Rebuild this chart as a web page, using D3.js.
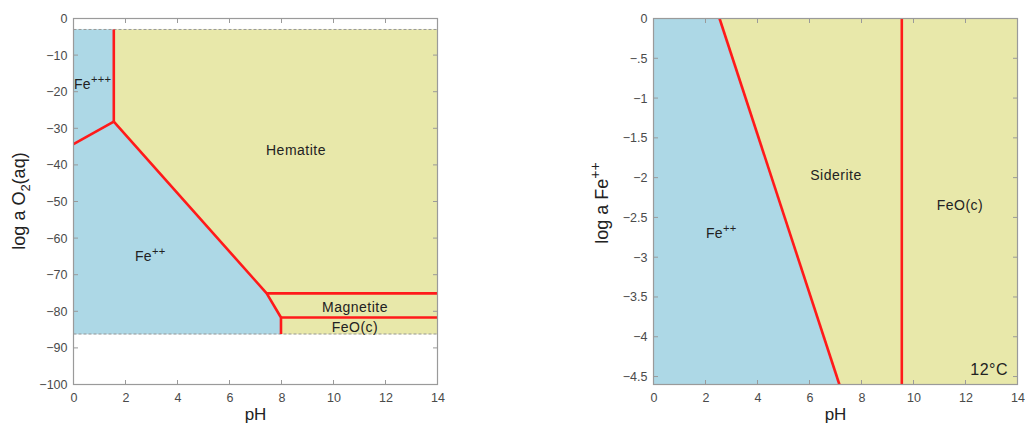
<!DOCTYPE html>
<html><head><meta charset="utf-8">
<script src="https://cdn.jsdelivr.net/npm/d3@7"></script>
<style>
body{margin:0;background:#fff;}
text{font-family:"Liberation Sans",Arial,sans-serif;}
</style></head>
<body><svg id="c" width="1025" height="423"></svg>
<script>
// ---------- data ----------
const xTicks = [0,2,4,6,8,10,12,14];
const leftYTicks = [0,-10,-20,-30,-40,-50,-60,-70,-80,-90,-100];
const rightYTicks = [0,-0.5,-1,-1.5,-2,-2.5,-3,-3.5,-4,-4.5];
const rightYTickLabels = ["0","\u2212.5","\u22121","\u22121.5","\u22122","\u22122.5","\u22123","\u22123.5","\u22124","\u22124.5"];

// left diagram (pH, log a O2)
const leftLimits = [-3, -86.2];
const feIIIRegion = [[0,-3],[1.55,-3],[1.55,-28.2],[0,-34.3]];
const hematiteRegion = [[1.55,-3],[14,-3],[14,-75.1],[7.43,-75.1],[1.55,-28.2]];
const feIIRegionL = [[0,-34.3],[1.55,-28.2],[7.43,-75.1],[7.98,-81.7],[7.98,-86.2],[0,-86.2]];
const magnetiteRegion = [[7.43,-75.1],[14,-75.1],[14,-81.7],[7.98,-81.7]];
const feoRegionL = [[7.98,-81.7],[14,-81.7],[14,-86.2],[7.98,-86.2]];
const leftBoundaries = [
  [[1.55,-3],[1.55,-28.2]],
  [[0,-34.3],[1.55,-28.2]],
  [[1.55,-28.2],[7.43,-75.1],[7.98,-81.7],[7.98,-86.2]],
  [[7.43,-75.1],[14,-75.1]],
  [[7.98,-81.7],[14,-81.7]]
];

// right diagram (pH, log a Fe++)
const feIIRegionR = [[0,0],[2.54,0],[7.15,-4.6],[0,-4.6]];
const sideriteRegion = [[2.54,0],[9.55,0],[9.55,-4.6],[7.15,-4.6]];
const feoRegionR = [[9.55,0],[14,0],[14,-4.6],[9.55,-4.6]];
const rightBoundaries = [
  [[2.54,0],[7.15,-4.6]],
  [[9.55,0],[9.55,-4.6]]
];

// ---------- styles ----------
const BLUE = "#add8e6", YELLOW = "#e8e8aa", RED = "#ff1a1a", AX = "#9a9a9a", TXT = "#222";
const svg = d3.select("#c");

function panel(x0, x1, y0, y1, yDomain, yTicks, yFmt, regions, bounds, dashed){
  const x = d3.scaleLinear().domain([0,14]).range([x0,x1]);
  const y = d3.scaleLinear().domain(yDomain).range([y1,y0]);
  const g = svg.append("g");
  const line = d3.line().x(d=>x(d[0])).y(d=>y(d[1]));
  regions.forEach(r=>{
    g.append("path").attr("d", line(r.pts)+"Z").attr("fill", r.color).attr("stroke", r.color).attr("stroke-width",0.5);
  });
  if (dashed) dashed.forEach(v=>{
    g.append("line").attr("x1",x(0)).attr("x2",x(14)).attr("y1",y(v)).attr("y2",y(v))
      .attr("stroke","#999").attr("stroke-width",1).attr("stroke-dasharray","3,2");
  });
  bounds.forEach(b=>{
    g.append("path").attr("d", line(b)).attr("fill","none").attr("stroke",RED)
      .attr("stroke-width",2.6).attr("stroke-linejoin","round");
  });
  // axes
  const bottom = d3.axisBottom(x).tickValues(xTicks).tickSize(0).tickPadding(9).tickFormat(d3.format("d"));
  const left = d3.axisLeft(y).tickValues(yTicks).tickSize(0).tickPadding(6).tickFormat((d,i)=>yFmt[i]);
  const gb = g.append("g").attr("transform",`translate(0,${y1})`).call(bottom);
  const gl = g.append("g").attr("transform",`translate(${x0},0)`).call(left);
  [gb,gl].forEach(a=>{
    a.select(".domain").remove();
    a.selectAll("text").attr("fill","#4a4a4a").style("font-size","12.5px").style("font-family","Liberation Sans, Arial, sans-serif");
  });
  // inward tick marks on all sides
  const tl = 4.5;
  xTicks.forEach(t=>{
    g.append("line").attr("x1",x(t)).attr("x2",x(t)).attr("y1",y1).attr("y2",y1-tl).attr("stroke",AX);
    g.append("line").attr("x1",x(t)).attr("x2",x(t)).attr("y1",y0).attr("y2",y0+tl).attr("stroke",AX);
  });
  yTicks.forEach(t=>{
    g.append("line").attr("x1",x0).attr("x2",x0+tl).attr("y1",y(t)).attr("y2",y(t)).attr("stroke",AX);
    g.append("line").attr("x1",x1).attr("x2",x1-tl).attr("y1",y(t)).attr("y2",y(t)).attr("stroke",AX);
  });
  g.append("rect").attr("x",x0).attr("y",y0).attr("width",x1-x0).attr("height",y1-y0)
    .attr("fill","none").attr("stroke",AX).attr("stroke-width",1.2);
  // x label
  g.append("text").attr("x",(x0+x1)/2).attr("y",420).attr("text-anchor","middle")
    .attr("fill",TXT).style("font-size","17px").text("pH");
  return {x,y,g};
}

const L = panel(73.5, 437.5, 18.5, 384.5, [-100,0], leftYTicks,
  leftYTicks.map(v=> v===0 ? "0" : "\u2212"+Math.abs(v)),
  [{pts:feIIIRegion,color:BLUE},{pts:hematiteRegion,color:YELLOW},{pts:feIIRegionL,color:BLUE},
   {pts:magnetiteRegion,color:YELLOW},{pts:feoRegionL,color:YELLOW}],
  leftBoundaries, leftLimits);

const R = panel(653.5, 1017.5, 18.5, 384.5, [-4.6,0], rightYTicks, rightYTickLabels,
  [{pts:feIIRegionR,color:BLUE},{pts:sideriteRegion,color:YELLOW},{pts:feoRegionR,color:YELLOW}],
  rightBoundaries, null);

// labels
function ion(g, x, y, base, sup, size){
  const t = g.append("text").attr("x",x).attr("y",y).attr("fill",TXT).style("font-size",size+"px")
    .style("letter-spacing","0.3px");
  t.append("tspan").text(base);
  t.append("tspan").attr("dy",-size*0.45).style("font-size",(size*0.8)+"px").text(sup);
}
function lab(g, x, y, s, size, anchor){
  g.append("text").attr("x",x).attr("y",y).attr("text-anchor",anchor||"middle")
    .attr("fill",TXT).style("font-size",size+"px").style("letter-spacing","0.5px").text(s);
}
ion(L.g, 74, 89, "Fe", "+++", 14);
lab(L.g, 296, 155, "Hematite", 14);
ion(L.g, 135, 261, "Fe", "++", 14);
lab(L.g, 355, 312, "Magnetite", 14);
lab(L.g, 355, 332, "FeO(c)", 14);
lab(R.g, 836, 180, "Siderite", 14);
lab(R.g, 960, 210, "FeO(c)", 14);
ion(R.g, 706, 238, "Fe", "++", 14);
lab(R.g, 1008, 375, "12\u00B0C", 16, "end");

// y-axis titles
const t1 = svg.append("text").attr("transform","translate(25,201) rotate(-90)").attr("text-anchor","middle")
  .attr("fill",TXT).style("font-size","18px");
t1.append("tspan").text("log a O");
t1.append("tspan").attr("dy",5).style("font-size","13px").text("2");
t1.append("tspan").attr("dy",-5).text("(aq)");
const t2 = svg.append("text").attr("transform","translate(608,203) rotate(-90)").attr("text-anchor","middle")
  .attr("fill",TXT).style("font-size","18px");
t2.append("tspan").text("log a Fe");
t2.append("tspan").attr("dy",-8).style("font-size","14px").text("++");
</script></body></html>
